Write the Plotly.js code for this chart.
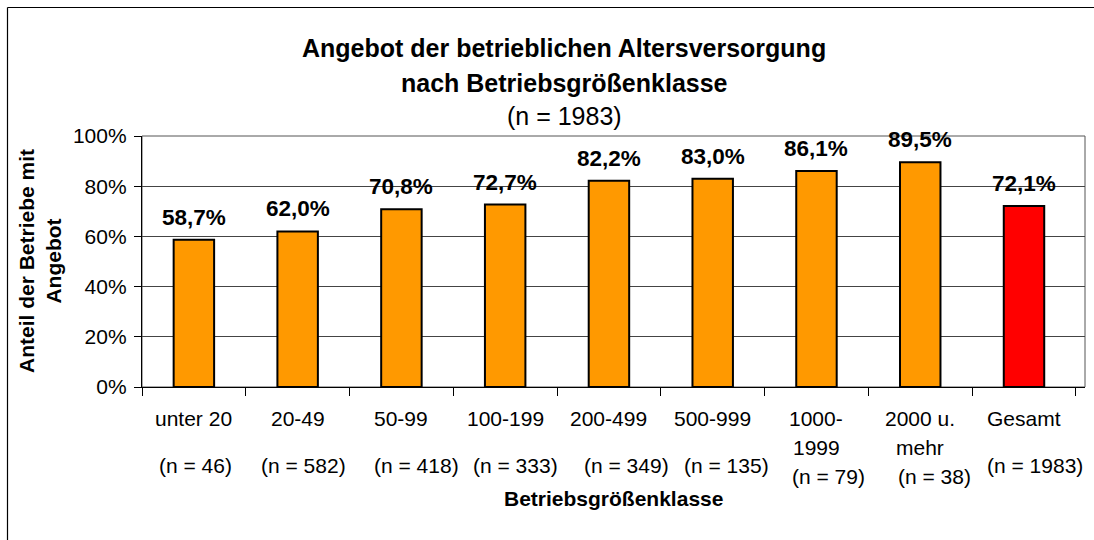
<!DOCTYPE html>
<html>
<head>
<meta charset="utf-8">
<script src="https://cdn.plot.ly/plotly-3.0.1.min.js"></script>
<style>
  html, body { margin: 0; padding: 0; background: #fff; }
  #chart { width: 1094px; height: 540px; }
</style>
</head>
<body>
<div id="chart"></div>
<script>
// ---- data ----
const categories = ["unter 20", "20-49", "50-99", "100-199", "200-499", "500-999", "1000-1999", "2000 u. mehr", "Gesamt"];
const categoryLabels = ["unter 20", "20-49", "50-99", "100-199", "200-499", "500-999", "1000-<br>1999", "2000 u.<br>mehr", "Gesamt"];
const sampleSizes = [46, 582, 418, 333, 349, 135, 79, 38, 1983];
const shareWithOffer = [58.7, 62.0, 70.8, 72.7, 82.2, 83.0, 86.1, 89.5, 72.1];
const yTickValues = [0, 20, 40, 60, 80, 100];

// ---- styling / layout helpers ----
const barColors = ["#FF9900", "#FF9900", "#FF9900", "#FF9900", "#FF9900", "#FF9900", "#FF9900", "#FF9900", "#FF0000"];
const nLabelXShift = [2, 6, 15, 10, 18, 14, 12, 14, 11];
const FONT = '"Liberation Sans", Arial, sans-serif';
const M = { l: 142, r: 9, t: 136, b: 153 };
const H = 540;
const plotH = H - M.t - M.b;
const py = px => (H - M.b - px) / plotH;           // pixel row -> paper y
const W = 1094, plotW = W - M.l - M.r;
const pxx = px => (px - M.l) / plotW;               // pixel column -> paper x

const fmt = v => v.toFixed(1).replace('.', ',') + '%';

const trace = {
  type: 'bar',
  x: categories,
  y: shareWithOffer,
  marker: { color: barColors, line: { color: '#000', width: 2 } },
  hoverinfo: 'skip'
};

const annotations = [];

// bar value labels
categories.forEach((c, i) => {
  annotations.push({
    x: c, y: shareWithOffer[i], xref: 'x', yref: 'y',
    text: '<b>' + fmt(shareWithOffer[i]) + '</b>',
    showarrow: false, yanchor: 'bottom', yshift: 8,
    font: { family: FONT, size: 22.5, color: '#000' }
  });
});

// category labels (line by line) and sample sizes
categories.forEach((c, i) => {
  const lines = categoryLabels[i].split('<br>');
  lines.forEach((ln, j) => {
    annotations.push({
      x: c, xref: 'x', y: py(418 + 29 * j), yref: 'paper',
      text: ln, showarrow: false, yanchor: 'middle',
      font: { family: FONT, size: 21, color: '#000' }
    });
  });
  annotations.push({
    x: c, xref: 'x', y: py(lines.length > 1 ? 476 : 465), yref: 'paper',
    xshift: nLabelXShift[i],
    text: '(n = ' + sampleSizes[i] + ')', showarrow: false, yanchor: 'middle',
    font: { family: FONT, size: 21, color: '#000' }
  });
});

// titles
const titleX = pxx(564);
annotations.push({ x: titleX, y: py(48), xref: 'paper', yref: 'paper', showarrow: false, yanchor: 'middle',
  text: '<b>Angebot der betrieblichen Altersversorgung</b>', font: { family: FONT, size: 25, color: '#000' } });
annotations.push({ x: titleX, y: py(83), xref: 'paper', yref: 'paper', showarrow: false, yanchor: 'middle',
  text: '<b>nach Betriebsgrößenklasse</b>', font: { family: FONT, size: 25, color: '#000' } });
annotations.push({ x: titleX, y: py(116), xref: 'paper', yref: 'paper', showarrow: false, yanchor: 'middle',
  text: '(n = 1983)', font: { family: FONT, size: 25, color: '#000' } });

// axis titles
annotations.push({ x: 0.5, y: py(498), xref: 'paper', yref: 'paper', showarrow: false, yanchor: 'middle',
  text: '<b>Betriebsgrößenklasse</b>', font: { family: FONT, size: 21, color: '#000' } });
annotations.push({ x: pxx(40), y: py(261), xref: 'paper', yref: 'paper', showarrow: false,
  xanchor: 'center', yanchor: 'middle', textangle: -90,
  text: '<b>Anteil der Betriebe mit<br>Angebot</b>', font: { family: FONT, size: 21, color: '#000' } });

const shapes = [
  // plot frame (top/right)
  { type: 'rect', xref: 'paper', yref: 'paper', x0: 0, x1: 1, y0: 0, y1: 1,
    line: { color: '#555', width: 1 }, layer: 'below' },
  // outer chart border (left/top, continues beyond the picture)
  { type: 'line', xref: 'paper', yref: 'paper', x0: pxx(7.5), x1: pxx(7.5), y0: py(7.5), y1: py(560),
    line: { color: '#000', width: 1.2 } },
  { type: 'line', xref: 'paper', yref: 'paper', x0: pxx(7.5), x1: pxx(1120), y0: py(7.5), y1: py(7.5),
    line: { color: '#000', width: 1.2 } }
];

const layout = {
  width: W, height: H,
  margin: M,
  paper_bgcolor: '#fff', plot_bgcolor: '#fff',
  showlegend: false,
  bargap: 0.61,
  font: { family: FONT, size: 21, color: '#000' },
  xaxis: {
    type: 'category',
    showticklabels: false,
    ticks: 'outside', tickson: 'boundaries', ticklen: 8, tickcolor: '#000', tickwidth: 1,
    showline: true, linecolor: '#000', linewidth: 1.2,
    showgrid: false, fixedrange: true
  },
  yaxis: {
    range: [0, 100],
    tickvals: yTickValues,
    ticktext: yTickValues.map(v => v + '%'),
    ticks: 'outside', ticklen: 7, tickcolor: '#000', tickwidth: 1,
    ticklabelstandoff: 3,
    tickfont: { family: FONT, size: 21, color: '#000' },
    showline: true, linecolor: '#000', linewidth: 1.2,
    showgrid: true, gridcolor: '#444', gridwidth: 1,
    zeroline: false, fixedrange: true
  },
  annotations: annotations,
  shapes: shapes
};

Plotly.newPlot('chart', [trace], layout, { displayModeBar: false, staticPlot: true });
</script>
</body>
</html>
